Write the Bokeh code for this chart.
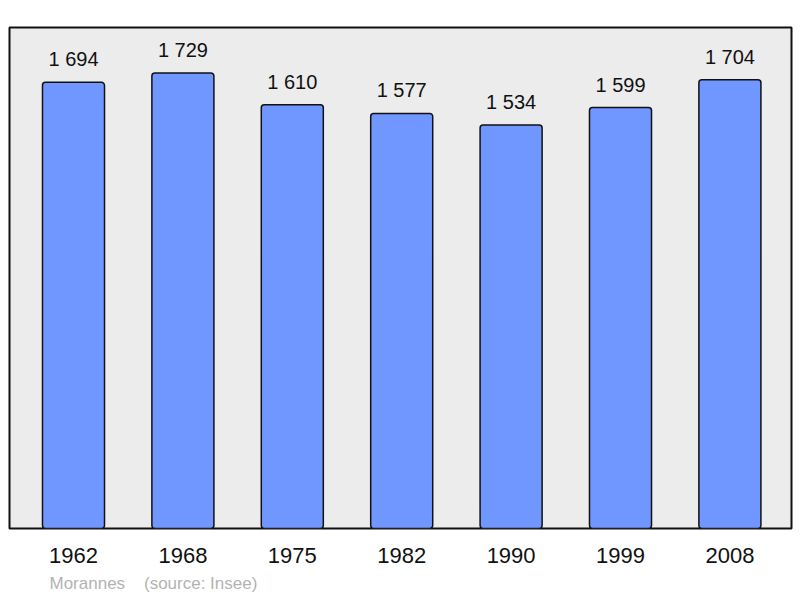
from bokeh.plotting import figure
from bokeh.models import Range1d, FixedTicker, ColumnDataSource, Title
from bokeh.core.properties import value
from bokeh.embed import file_html
from bokeh.resources import INLINE

years = ["1962", "1968", "1975", "1982", "1990", "1999", "2008"]
population = [1694, 1729, 1610, 1577, 1534, 1599, 1704]
value_labels = ["1 694", "1 729", "1 610", "1 577", "1 534", "1 599", "1 704"]
commune = "Morannes"
source_note = "(source: Insee)"

idx = list(range(len(years)))
src = ColumnDataSource(dict(x=idx, top=population, lab=value_labels))

p = figure(width=800, height=598, output_backend="svg", toolbar_location=None,
           x_range=Range1d(-0.585, 6.563), y_range=Range1d(17, 1900),
           min_border_left=9, min_border_right=9, min_border_top=27, min_border_bottom=0)
p.frame_width = 782
p.frame_height = 501

p.background_fill_color = "#ececec"
p.border_fill_color = "white"
p.outline_line_color = "#111111"
p.outline_line_width = 2
p.grid.visible = False
p.yaxis.visible = False

p.vbar(x="x", top="top", bottom=0, width=0.567, source=src,
       fill_color="#7096ff", line_color="#111111", line_width=1.5, border_radius=3)

p.text(x="x", y="top", text="lab", source=src, y_offset=-23,
       text_align="center", text_baseline="alphabetic",
       text_font=value("Liberation Sans"), text_font_size="20px", text_color="#111111")

ax = p.xaxis[0]
ax.ticker = FixedTicker(ticks=idx)
ax.major_label_overrides = {i: y for i, y in zip(idx, years)}
ax.axis_line_color = None
ax.major_tick_line_color = None
ax.minor_tick_line_color = None
ax.major_tick_out = 0
ax.major_tick_in = 0
ax.major_label_standoff = 19
ax.major_label_text_font = "Liberation Sans"
ax.major_label_text_font_size = "22px"
ax.major_label_text_color = "#111111"

note = commune + "\u00a0\u00a0\u00a0\u00a0" + source_note
p.add_layout(Title(text=note, align="left", offset=40, standoff=12,
                   text_font="Liberation Sans", text_font_size="17px",
                   text_font_style="normal", text_color="#b3b3b3"), "below")

open("out.html", "w").write(file_html(p, INLINE))
